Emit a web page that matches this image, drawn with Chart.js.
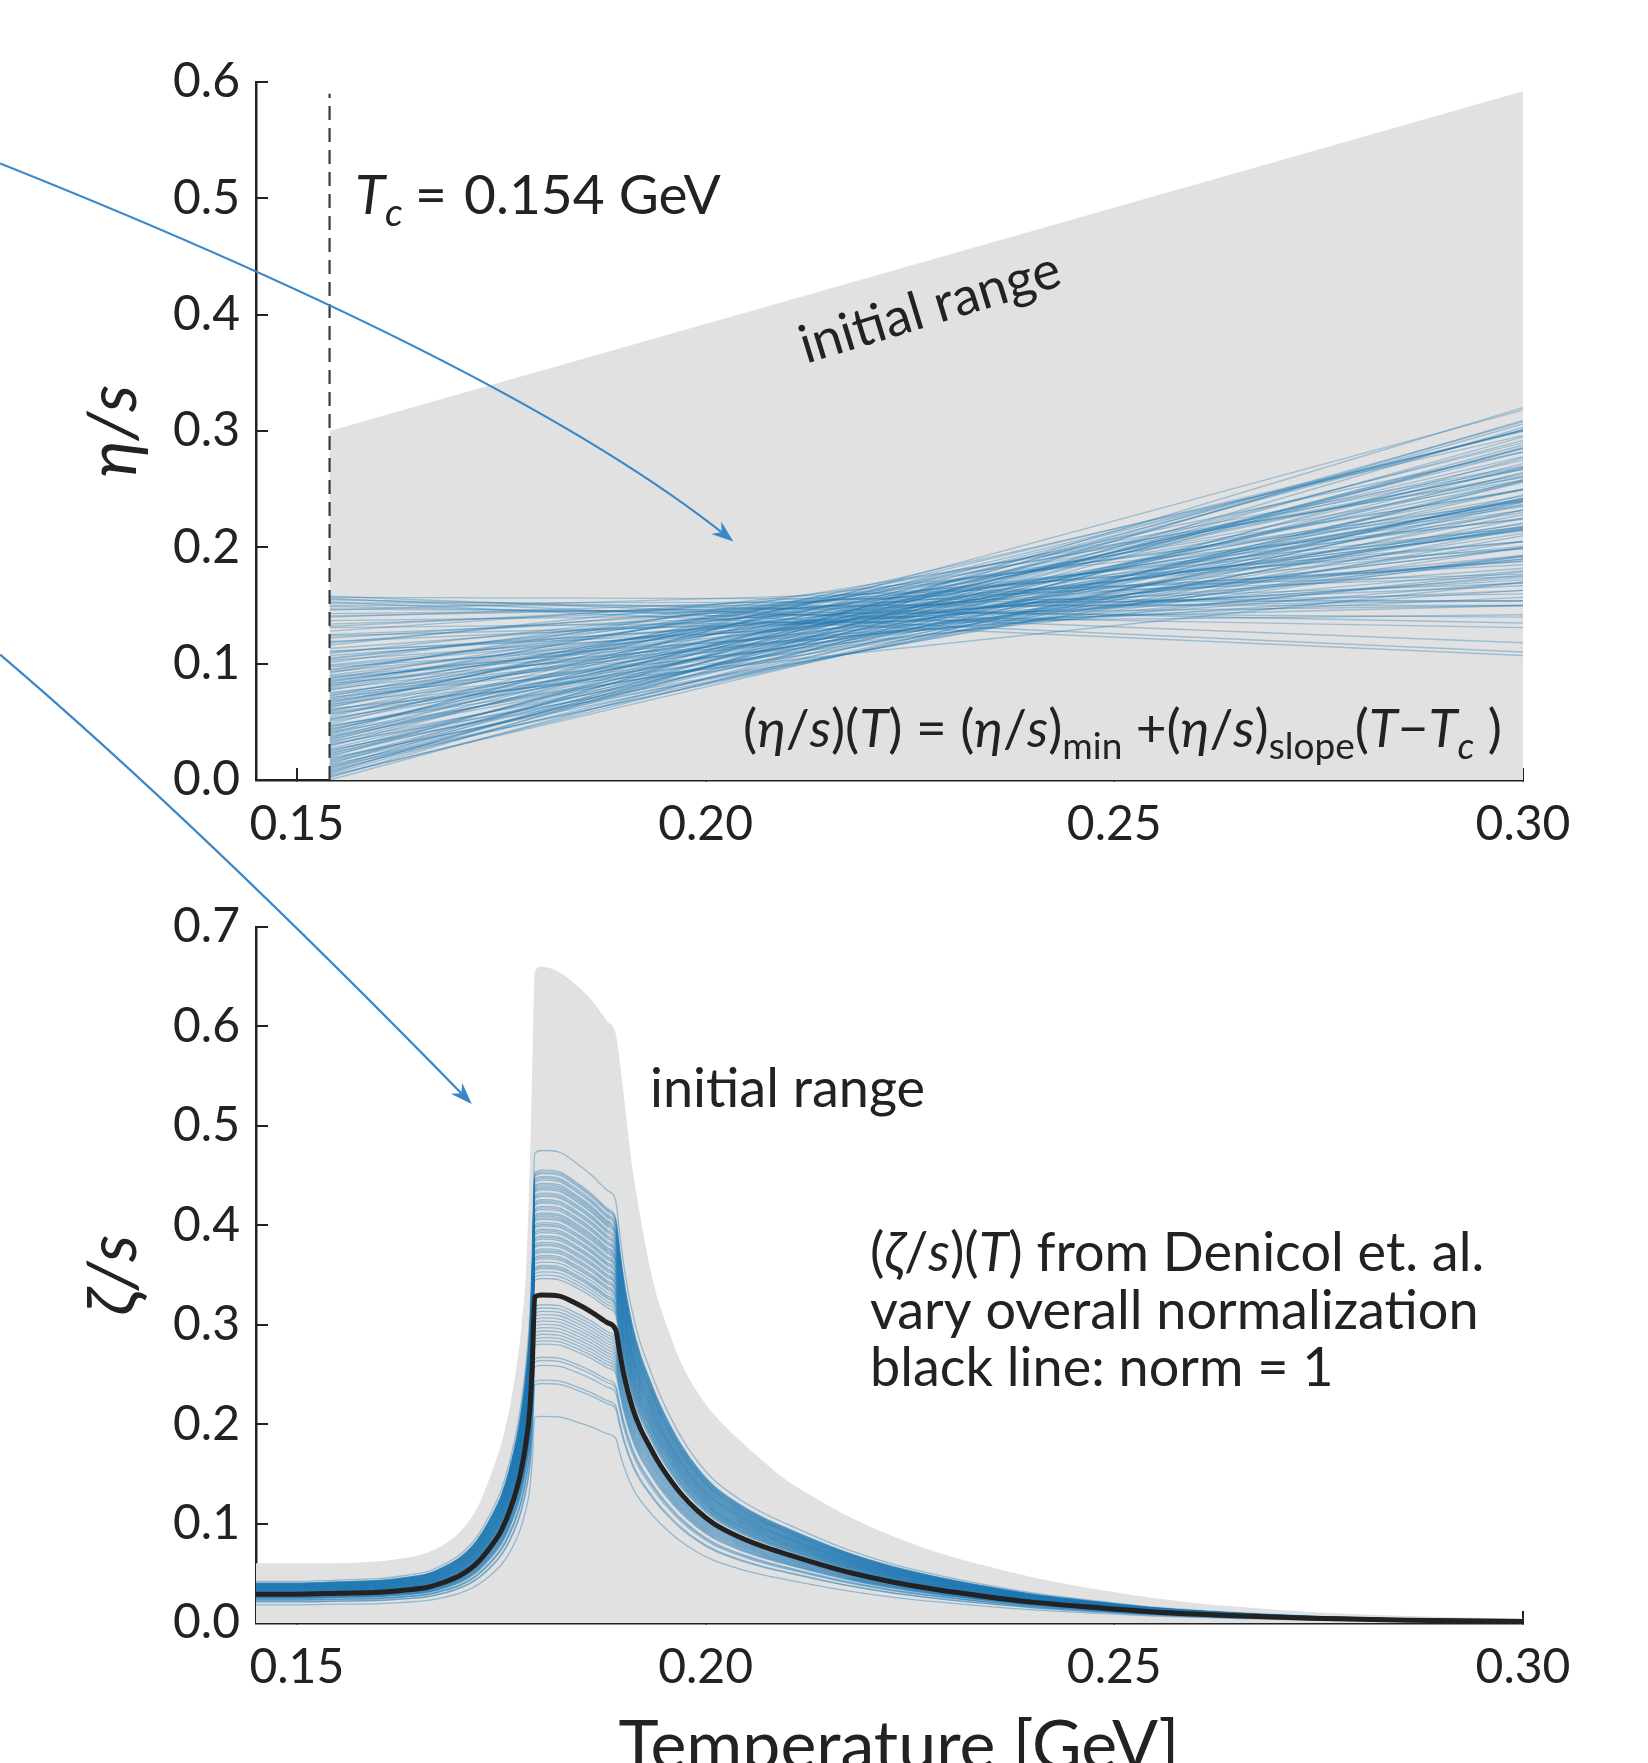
<!DOCTYPE html>
<html>
<head>
<meta charset="utf-8">
<script src="https://cdn.jsdelivr.net/npm/chart.js@4.4.1/dist/chart.umd.min.js"></script>
<style>
  html, body { margin: 0; padding: 0; background: #fff; }
  #wrap { position: relative; width: 1648px; height: 1763px; overflow: hidden; }
  canvas { position: absolute; left: 0; top: 0; }
</style>
</head>
<body>
<div id="wrap">
  <canvas id="eta" width="1648" height="1763"></canvas>
  <canvas id="zeta" width="1648" height="1763"></canvas>
</div>
<script>
// ---- data ----
const tempTicks = [0.15, 0.20, 0.25, 0.30]
const etaTicks = [0.0, 0.1, 0.2, 0.3, 0.4, 0.5, 0.6]
const zetaTicks = [0.0, 0.1, 0.2, 0.3, 0.4, 0.5, 0.6, 0.7]

const Tc = 0.154
const Tmax = 0.30

// eta/s prior band: upper edge at Tc and at Tmax
const etaPriorTop = [0.30, 0.592]

// eta/s posterior lines: value at Tc and value at Tmax
const etaAtTc = [
  0.000, 0.002, 0.003, 0.005, 0.006, 0.008, 0.009, 0.010, 0.011, 0.012,
  0.014, 0.015, 0.017, 0.018, 0.020, 0.021, 0.023, 0.024, 0.026, 0.027,
  0.029, 0.030, 0.032, 0.033, 0.035, 0.036, 0.038, 0.039, 0.040, 0.041,
  0.042, 0.044, 0.045, 0.047, 0.048, 0.050, 0.051, 0.053, 0.054, 0.056,
  0.057, 0.059, 0.060, 0.062, 0.063, 0.065, 0.066, 0.068, 0.069, 0.071,
  0.072, 0.074, 0.075, 0.077, 0.078, 0.080, 0.081, 0.083, 0.084, 0.086,
  0.087, 0.089, 0.090, 0.092, 0.093, 0.095, 0.097, 0.099, 0.101, 0.103,
  0.105, 0.107, 0.109, 0.111, 0.113, 0.116, 0.119, 0.122, 0.125, 0.128,
  0.131, 0.134, 0.137, 0.140, 0.143, 0.146, 0.149, 0.150, 0.152, 0.153,
  0.155, 0.156, 0.157, 0.158,
  0.004, 0.007, 0.013, 0.016, 0.019, 0.022, 0.025, 0.031, 0.034, 0.037,
  0.043, 0.046, 0.052, 0.058, 0.061, 0.064, 0.067, 0.070, 0.073, 0.079,
  0.082, 0.085, 0.088, 0.094, 0.098, 0.104, 0.110, 0.118, 0.124, 0.132,
  0.141, 0.147
]
const etaAtTmax = [
  0.277, 0.303, 0.257, 0.286, 0.309, 0.258, 0.288, 0.320, 0.239, 0.269,
  0.306, 0.256, 0.285, 0.237, 0.308, 0.264, 0.242, 0.285, 0.216, 0.264,
  0.301, 0.242, 0.282, 0.221, 0.261, 0.301, 0.239, 0.278, 0.318, 0.218,
  0.301, 0.241, 0.257, 0.200, 0.300, 0.240, 0.268, 0.212, 0.300, 0.240,
  0.192, 0.267, 0.217, 0.296, 0.242, 0.193, 0.267, 0.216, 0.244, 0.179,
  0.269, 0.220, 0.192, 0.250, 0.200, 0.270, 0.218, 0.176, 0.232, 0.199,
  0.249, 0.180, 0.214, 0.260, 0.193, 0.225, 0.163, 0.201, 0.236, 0.174,
  0.205, 0.182, 0.217, 0.157, 0.188, 0.224, 0.163, 0.188, 0.167, 0.199,
  0.142, 0.169, 0.150, 0.175, 0.154, 0.177, 0.131, 0.150, 0.154, 0.107,
  0.135, 0.110, 0.154, 0.118,
  0.245, 0.295, 0.232, 0.272, 0.225, 0.292, 0.250, 0.210, 0.290, 0.228,
  0.275, 0.232, 0.250, 0.205, 0.170, 0.282, 0.230, 0.258, 0.190, 0.235,
  0.262, 0.215, 0.170, 0.240, 0.190, 0.215, 0.172, 0.205, 0.150, 0.185,
  0.160, 0.140
]

// zeta/s: temperature grid, prior envelope, norm = 1 curve
const zetaT = [
  0.145, 0.150, 0.155, 0.160, 0.163, 0.166, 0.168, 0.170, 0.172, 0.174,
  0.175, 0.176, 0.177, 0.1775, 0.178, 0.1785, 0.1788, 0.1791, 0.180, 0.182,
  0.184, 0.186, 0.188, 0.189, 0.1895, 0.190, 0.191, 0.192, 0.193, 0.194,
  0.195, 0.197, 0.199, 0.201, 0.204, 0.207, 0.210, 0.214, 0.218, 0.223,
  0.228, 0.234, 0.240, 0.247, 0.255, 0.264, 0.274, 0.286, 0.300
]
const zetaPrior = [
  0.060, 0.060, 0.060, 0.062, 0.065, 0.071, 0.079, 0.092, 0.115, 0.155,
  0.180, 0.215, 0.265, 0.300, 0.350, 0.460, 0.560, 0.655, 0.660, 0.655,
  0.643, 0.627, 0.605, 0.593, 0.565, 0.530, 0.460, 0.410, 0.365, 0.330,
  0.305, 0.262, 0.232, 0.210, 0.185, 0.163, 0.143, 0.123, 0.105, 0.087,
  0.072, 0.058, 0.046, 0.035, 0.025, 0.017, 0.011, 0.007, 0.0045
]
const zetaNorm1 = [
  0.029, 0.029, 0.030, 0.031, 0.033, 0.036, 0.041, 0.048, 0.060, 0.080,
  0.093, 0.112, 0.138, 0.156, 0.180, 0.215, 0.260, 0.328, 0.330, 0.329,
  0.322, 0.313, 0.302, 0.295, 0.272, 0.250, 0.218, 0.196, 0.180, 0.165,
  0.152, 0.130, 0.113, 0.100, 0.087, 0.077, 0.069, 0.059, 0.050, 0.041,
  0.034, 0.027, 0.021, 0.016, 0.011, 0.0075, 0.0048, 0.0028, 0.0015
]
// overall normalizations of the blue curves (peak height / black peak height)
const zetaNorms = [
  1.44, 1.38, 1.375, 1.37, 1.36, 1.355, 1.35, 1.34, 1.335, 1.33,
  1.325, 1.32, 1.31, 1.305, 1.30, 1.29, 1.285, 1.28, 1.27, 1.265,
  1.26, 1.25, 1.245, 1.24, 1.235, 1.23, 1.22, 1.215, 1.21, 1.20,
  1.195, 1.19, 1.18, 1.175, 1.17, 1.16, 1.155, 1.15, 1.14, 1.135,
  1.13, 1.12, 1.115, 1.11, 1.10, 1.09, 1.085, 1.08, 1.07, 1.06,
  1.05, 0.97, 0.96, 0.95, 0.94, 0.93, 0.92, 0.91, 0.90, 0.89,
  0.88, 0.87, 0.86, 0.85, 0.81, 0.80, 0.785, 0.74, 0.73, 0.63
]

// ---- styling ----
const INK = "#222222"
const FONT = 'Lato, "DejaVu Sans", sans-serif'
const GREY = "#e1e1e1"
const BLUE = "rgba(31, 119, 180, 0.34)"
const BLUE_ZETA = "rgba(31, 119, 180, 0.4)"
const ARROW = "#3a87c8"

function fontFor(style, size) {
  const sz = style.includes("sub") ? Math.round(size * 0.7) : size
  return (style.startsWith("i") ? "italic " : "") + sz + "px " + FONT
}

// draw text made of [text, style] pieces; style: "", "i", "sub", "isub"
function drawRich(ctx, segs, x, y, size, align) {
  let w = 0
  for (const [t, st] of segs) { ctx.font = fontFor(st, size); w += ctx.measureText(t).width }
  let cx = align === "right" ? x - w : align === "center" ? x - w / 2 : x
  ctx.textAlign = "left"
  ctx.textBaseline = "alphabetic"
  for (const [t, st] of segs) {
    ctx.font = fontFor(st, size)
    const dy = st.includes("sub") ? size * 0.22 : 0
    ctx.fillText(t, cx, y + dy)
    cx += ctx.measureText(t).width
  }
}

function drawArrow(ctx, chart, pts) {
  const xs = chart.scales.x, ys = chart.scales.y
  const p = pts.map(([t, v]) => [xs.getPixelForValue(t), ys.getPixelForValue(v)])
  const ang = Math.atan2(p[2][1] - p[1][1], p[2][0] - p[1][0])
  ctx.save()
  ctx.strokeStyle = ARROW
  ctx.fillStyle = ARROW
  ctx.lineWidth = 2.2
  ctx.beginPath()
  ctx.moveTo(p[0][0], p[0][1])
  ctx.quadraticCurveTo(p[1][0], p[1][1], p[2][0] - 8 * Math.cos(ang), p[2][1] - 8 * Math.sin(ang))
  ctx.stroke()
  ctx.translate(p[2][0], p[2][1])
  ctx.rotate(ang)
  ctx.beginPath()
  ctx.moveTo(0, 0)
  ctx.lineTo(-22, -8)
  ctx.lineTo(-15, 0)
  ctx.lineTo(-22, 8)
  ctx.closePath()
  ctx.fill()
  ctx.restore()
}

function xAxis(height) {
  return {
    type: "linear",
    min: 0.145,
    max: 0.30,
    z: 1,
    afterBuildTicks: s => { s.ticks = tempTicks.map(v => ({ value: v })) },
    afterFit: s => { s.height = height },
    border: { color: INK, width: 2.5 },
    grid: { drawOnChartArea: false, drawTicks: true, tickLength: -12, color: INK, lineWidth: 2 },
    ticks: {
      padding: 28, color: INK, maxRotation: 0, autoSkip: false,
      font: { family: FONT, size: 48 },
      callback: v => v.toFixed(2)
    }
  }
}

function yAxis(max, tickVals, title) {
  return {
    type: "linear",
    min: 0,
    max: max,
    z: 1,
    afterBuildTicks: s => { s.ticks = tickVals.map(v => ({ value: v })) },
    afterFit: s => { s.width = 256 },
    border: { color: INK, width: 2.5 },
    grid: { drawOnChartArea: false, drawTicks: true, tickLength: -12, color: INK, lineWidth: 2 },
    ticks: {
      padding: 28, color: INK,
      font: { family: FONT, size: 48 },
      callback: v => v.toFixed(1)
    },
    title: {
      display: true, text: title, color: INK,
      font: { family: FONT, size: 68, style: "italic", lineHeight: 1 },
      padding: { top: 80, bottom: 0 }
    }
  }
}

const baseOptions = {
  responsive: false,
  animation: false,
  devicePixelRatio: 1,
  events: [],
  elements: { point: { radius: 0 }, line: { tension: 0 } },
  plugins: { legend: { display: false }, tooltip: { enabled: false } }
}

// ---- top panel: eta/s ----
const etaDatasets = [
  {
    data: [{ x: Tc, y: 0 }, { x: Tc, y: 0.59 }],
    borderColor: "#3a3a3a", borderWidth: 2.2, borderDash: [14, 8], order: 0
  },
  ...etaAtTc.map((a, i) => ({
    data: [{ x: Tc, y: a }, { x: Tmax, y: etaAtTmax[i] }],
    borderColor: BLUE, borderWidth: 1.4, order: 2
  })),
  {
    data: [{ x: Tc, y: etaPriorTop[0] }, { x: Tmax, y: etaPriorTop[1] }],
    fill: "origin", backgroundColor: GREY, borderColor: "rgba(0,0,0,0)", borderWidth: 0, order: 3
  }
]

const etaText = {
  id: "etaText",
  afterDraw(chart) {
    const ctx = chart.ctx
    ctx.save()
    ctx.fillStyle = INK
    drawRich(ctx, [["T", "i"], ["c", "isub"]], 355, 214, 55)
    drawRich(ctx, [["=", ""]], 415, 214, 55)
    drawRich(ctx, [["0.154 GeV", ""]], 464, 214, 55)
    ctx.save()
    ctx.translate(930, 308)
    ctx.rotate(-17 * Math.PI / 180)
    ctx.font = "53px " + FONT
    ctx.textAlign = "center"
    ctx.textBaseline = "middle"
    ctx.fillText("initial range", 0, 0)
    ctx.restore()
    drawRich(ctx, [
      ["(", ""], ["η", "i"], ["/", ""], ["s", "i"], [")(", ""], ["T", "i"], [")", ""],
      [" = (", ""], ["η", "i"], ["/", ""], ["s", "i"], [")", ""], ["min", "sub"],
      [" +(", ""], ["η", "i"], ["/", ""], ["s", "i"], [")", ""], ["slope", "sub"],
      ["(", ""], ["T", "i"], ["−", ""], ["T", "i"], ["c", "isub"], [" )", ""]
    ], 1502, 747, 53, "right")
    ctx.restore()
  }
}

const etaChart = new Chart(document.getElementById("eta"), {
  type: "line",
  data: { datasets: etaDatasets },
  options: {
    ...baseOptions,
    layout: { padding: { left: 0, right: 125, top: 82, bottom: 883 } },
    scales: { x: xAxis(100), y: yAxis(0.6, etaTicks, "η/s") }
  },
  plugins: [etaText]
})

// ---- bottom panel: zeta/s ----
const zetaDatasets = [
  {
    data: zetaT.map((t, i) => ({ x: t, y: zetaNorm1[i] })),
    borderColor: INK, borderWidth: 5, order: 0
  },
  ...zetaNorms.map(n => ({
    data: zetaT.map((t, i) => ({ x: t, y: n * zetaNorm1[i] })),
    borderColor: BLUE_ZETA, borderWidth: 1.3, order: 2
  })),
  {
    data: zetaT.map((t, i) => ({ x: t, y: zetaPrior[i] })),
    fill: "origin", backgroundColor: GREY, borderColor: "rgba(0,0,0,0)", borderWidth: 0, order: 3
  }
]

const zetaText = {
  id: "zetaText",
  afterDraw(chart) {
    const ctx = chart.ctx
    ctx.save()
    ctx.fillStyle = INK
    ctx.font = "54px " + FONT
    ctx.textAlign = "left"
    ctx.textBaseline = "alphabetic"
    ctx.fillText("initial range", 650, 1107)
    drawRich(ctx, [["(", ""], ["ζ", "i"], ["/", ""], ["s", "i"], [")(", ""], ["T", "i"], [") from Denicol et. al.", ""]], 870, 1271, 54)
    drawRich(ctx, [["vary overall normalization", ""]], 870, 1329, 54)
    drawRich(ctx, [["black line: norm = 1", ""]], 870, 1386, 54)
    // shared x-axis title
    drawRich(ctx, [["Temperature [GeV]", ""]], 899, 1769, 68, "center")
    ctx.restore()
    // annotation arrows coming in from the left margin
    drawArrow(ctx, etaChart, [[0.1137, 0.530], [0.1772, 0.352], [0.2034, 0.205]])
    drawArrow(ctx, chart, [[0.1137, 0.974], [0.1377, 0.806], [0.1714, 0.522]])
  }
}

new Chart(document.getElementById("zeta"), {
  type: "line",
  data: { datasets: zetaDatasets },
  options: {
    ...baseOptions,
    elements: { point: { radius: 0 }, line: { tension: 0, cubicInterpolationMode: "monotone" } },
    layout: { padding: { left: 0, right: 125, top: 927, bottom: 0 } },
    scales: { x: xAxis(140), y: yAxis(0.7, zetaTicks, "ζ/s") }
  },
  plugins: [zetaText]
})
</script>
</body>
</html>
